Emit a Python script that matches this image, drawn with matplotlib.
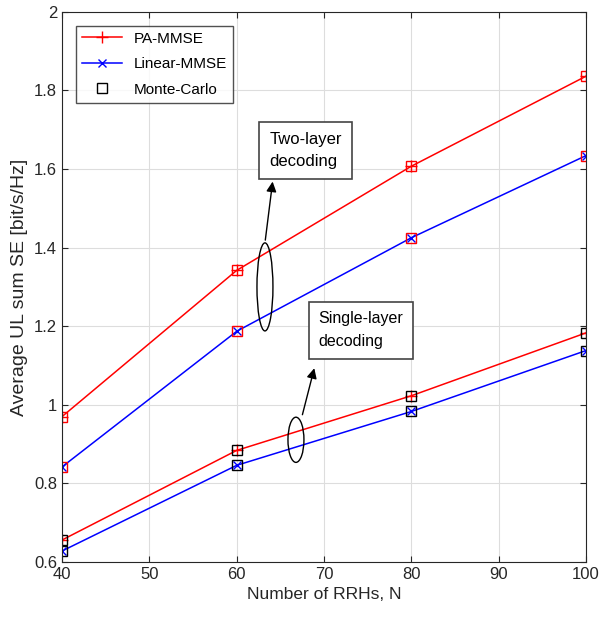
import numpy as np
import matplotlib.pyplot as plt
from matplotlib.patches import Ellipse

plt.rcParams['font.family'] = ['Liberation Sans', 'DejaVu Sans']

''' Data '''
rrhs = [40, 60, 80, 100]
pa_two = [0.970, 1.342, 1.607, 1.836]
lin_two = [0.842, 1.187, 1.425, 1.634]
pa_single = [0.656, 0.884, 1.023, 1.183]
lin_single = [0.628, 0.846, 0.983, 1.138]
xticks = [40, 50, 60, 70, 80, 90, 100]
yticks = [0.6, 0.8, 1.0, 1.2, 1.4, 1.6, 1.8, 2.0]
yticklabels = ['0.6', '0.8', '1', '1.2', '1.4', '1.6', '1.8', '2']

fig = plt.figure(figsize=[6.11, 6.2], dpi=100)
ax = fig.add_axes([0.1015, 0.0935, 0.8575, 0.8875])

''' Curves '''
ax.plot(rrhs, pa_two, color='red', marker='+', markersize=8, lw=1.1, label='PA-MMSE')
ax.plot(rrhs, lin_two, color='blue', marker='x', markersize=6, lw=1.1, label='Linear-MMSE')
ax.plot(rrhs, pa_single, color='red', marker='+', markersize=8, lw=1.1)
ax.plot(rrhs, lin_single, color='blue', marker='x', markersize=6, lw=1.1)

''' Monte-Carlo '''
ax.plot(rrhs, pa_two, ls='none', marker='s', markersize=6.5, mfc='none', mec='red', mew=1.0)
ax.plot(rrhs, lin_two, ls='none', marker='s', markersize=6.5, mfc='none', mec='red', mew=1.0)
ax.plot(rrhs, pa_single, ls='none', marker='s', markersize=6.5, mfc='none', mec='black', mew=1.0,
        label='Monte-Carlo')
ax.plot(rrhs, lin_single, ls='none', marker='s', markersize=6.5, mfc='none', mec='black', mew=1.0)

''' Annotations '''
ax.add_patch(Ellipse((63.24, 1.300), 1.83, 0.224, fill=False, ec='black', lw=1.0, zorder=5))
ax.add_patch(Ellipse((66.79, 0.911), 1.83, 0.115, fill=False, ec='black', lw=1.0, zorder=5))
ax.annotate('', xy=(64.16, 1.575), xytext=(63.24, 1.412),
            arrowprops=dict(arrowstyle='-|>', color='black', lw=1.0, mutation_scale=15))
ax.annotate('', xy=(68.97, 1.100), xytext=(67.45, 0.968),
            arrowprops=dict(arrowstyle='-|>', color='black', lw=1.0, mutation_scale=15))
ax.text(63.75, 1.648, 'Two-layer\ndecoding', fontsize=12, va='center', ha='left',
        linespacing=1.6,
        bbox=dict(boxstyle='square,pad=0.6', fc='white', ec='#444444', lw=1.2))
ax.text(69.35, 1.19, 'Single-layer\ndecoding', fontsize=11.5, va='center', ha='left',
        linespacing=1.65,
        bbox=dict(boxstyle='square,pad=0.6', fc='white', ec='#444444', lw=1.2))

''' Axes '''
ax.set_xlim(40, 100)
ax.set_ylim(0.6, 2.0)
ax.set_xticks(xticks)
ax.set_yticks(yticks)
ax.set_yticklabels(yticklabels)
ax.grid(True, color='#dddddd', lw=0.8)
ax.set_axisbelow(True)
ax.tick_params(axis='both', direction='in', top=True, right=True, labelsize=12,
               colors='#262626', length=4)
for s in ax.spines.values():
    s.set_color('#262626')
ax.set_xlabel('Number of RRHs, N', fontsize=12.5, color='#262626')
ax.set_ylabel('Average UL sum SE [bit/s/Hz]', fontsize=14, color='#262626', labelpad=4)
ax.legend(loc='upper left', fontsize=11, frameon=True, fancybox=False, edgecolor='#262626',
          borderaxespad=0.9, handlelength=2.6, labelspacing=0.75)

plt.savefig('out.png')
plt.close(fig)
